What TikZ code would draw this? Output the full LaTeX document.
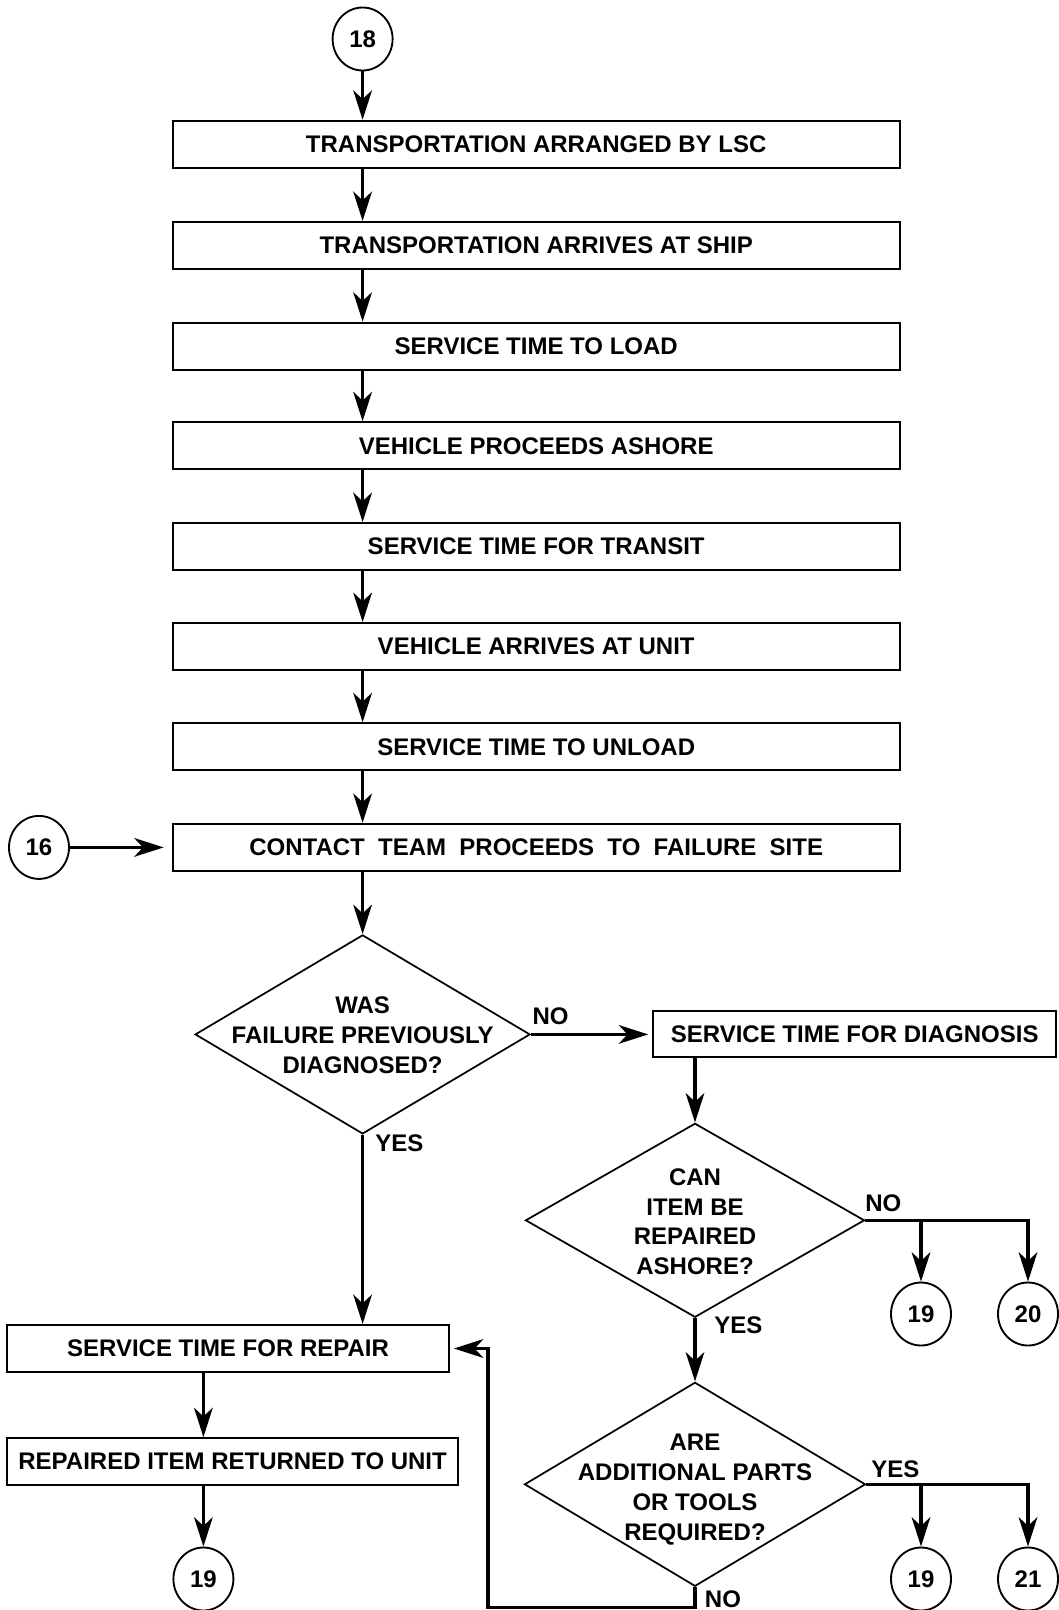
\documentclass[tikz,border=0pt]{standalone}
\usepackage{fontspec}
\setmainfont{Liberation Sans}
\usetikzlibrary{shapes.geometric,arrows.meta}
\begin{document}
\begin{tikzpicture}[x=0.75pt,y=-0.75pt,
  txt/.style={font=\fontsize{18}{22.3}\selectfont\bfseries},
  stepbox/.style={draw,line width=1.6pt,rectangle,inner sep=0pt,minimum height=35.25pt,txt},
  mainbox/.style={stepbox,minimum width=545.25pt},
  decision/.style={draw,diamond,line width=1.3pt,inner sep=0pt},
  conn/.style={ellipse,draw,line width=1.4pt,minimum width=45pt,minimum height=47.25pt,inner sep=0pt,txt},
  flow/.style={line width=2.4pt,-{Stealth[length=22pt,width=14pt,inset=6.5pt]}},
  lbl/.style={txt,inner sep=0pt}
]
\useasboundingbox (0,0) rectangle (1058,1610);
\fill[white] (0,0) rectangle (1058,1610);

% main column
\node[conn] (c18) at (362.6,39) {18};
\node[mainbox] (b1) at (536.2,144.3) {TRANSPORTATION ARRANGED BY LSC};
\node[mainbox] (b2) at (536.2,245.5) {TRANSPORTATION ARRIVES AT SHIP};
\node[mainbox] (b3) at (536.2,346.2) {SERVICE TIME TO LOAD};
\node[mainbox] (b4) at (536.2,445.8) {VEHICLE PROCEEDS ASHORE};
\node[mainbox] (b5) at (536.2,546.5) {SERVICE TIME FOR TRANSIT};
\node[mainbox] (b6) at (536.2,646.6) {VEHICLE ARRIVES AT UNIT};
\node[mainbox] (b7) at (536.2,746.8) {SERVICE TIME TO UNLOAD};
\node[mainbox] (b8) at (536.2,847.4) {CONTACT\ \ TEAM\ \ PROCEEDS\ \ TO\ \ FAILURE\ \ SITE};
\node[conn] (c16) at (39,847.4) {16};

% decisions
\node[decision,minimum width=251.25pt,minimum height=149.25pt] (d1) at (362.6,1034.4) {};
\node[lbl,align=center] (d1t) at ([yshift=-0.75pt]d1.center) {WAS\\FAILURE PREVIOUSLY\\DIAGNOSED?};
\node[stepbox,minimum width=302.25pt,minimum height=34.5pt] (diag) at (854.7,1034.4) {SERVICE TIME FOR DIAGNOSIS};
\node[decision,minimum width=254.25pt,minimum height=145.5pt] (d2) at (695,1220.3) {};
\node[lbl,align=center] (d2t) at ([yshift=-1pt]d2.center) {CAN\\ITEM BE\\REPAIRED\\ASHORE?};
\node[decision,minimum width=255.75pt,minimum height=153pt] (d3) at (695,1484.3) {};
\node[lbl,align=center] (d3t) at ([yshift=-4pt]d3.center) {ARE\\ADDITIONAL PARTS\\OR TOOLS\\REQUIRED?};

% off-page connectors
\node[conn] (c19a) at (921,1314) {19};
\node[conn] (c20) at (1028,1314) {20};
\node[conn] (c19b) at (921,1579) {19};
\node[conn] (c21) at (1028,1579) {21};
\node[conn] (c19c) at (203.4,1579) {19};

% repair branch
\node[stepbox,minimum width=331.3pt] (rep) at (228,1348.5) {SERVICE TIME FOR REPAIR};
\node[stepbox,minimum width=338pt] (ret) at (232.6,1461.7) {REPAIRED ITEM RETURNED TO UNIT};

% branch labels
\node[lbl] (no1) at (550.6,1016) {NO};
\node[lbl,anchor=west] (yes1) at (375,1143) {YES};
\node[lbl,anchor=west] (no2) at (865,1203) {NO};
\node[lbl,anchor=west] (yes2) at (714,1325) {YES};
\node[lbl,anchor=west] (yes3) at (871,1469) {YES};
\node[lbl,anchor=west] (no3) at (704.7,1599) {NO};

\coordinate (fb) at (487.9,1607.6);

% connectors
\draw[flow] (c18.south) -- (b1.north -| c18);
\foreach \a/\b in {b1/b2,b2/b3,b3/b4,b4/b5,b5/b6,b6/b7,b7/b8}
  \draw[flow] (\a.south -| c18) -- (\b.north -| c18);
\draw[flow,shorten >=6pt] (c16.east) -- (b8.west);
\draw[flow] (b8.south -| c18) -- (d1.north);
\draw[flow,shorten >=3pt] (d1.east) -- (diag.west);
\draw[flow] (diag.south -| d2) -- (d2.north);
\draw[flow] (d2.east) -| (c20.north);
\draw[flow] (d2.east -| c19a) -- (c19a.north);
\draw[flow] (d2.south) -- (d3.north);
\draw[flow] (d3.east) -| (c21.north);
\draw[flow] (d3.east -| c19b) -- (c19b.north);
\draw[flow] (d1.south) -- (rep.north -| d1);
\draw[flow,shorten >=3pt] (d3.south) |- (fb) |- (rep.east);
\draw[flow] (rep.south -| c19c) -- (ret.north -| c19c);
\draw[flow] (ret.south -| c19c) -- (c19c.north);
\end{tikzpicture}
\end{document}
